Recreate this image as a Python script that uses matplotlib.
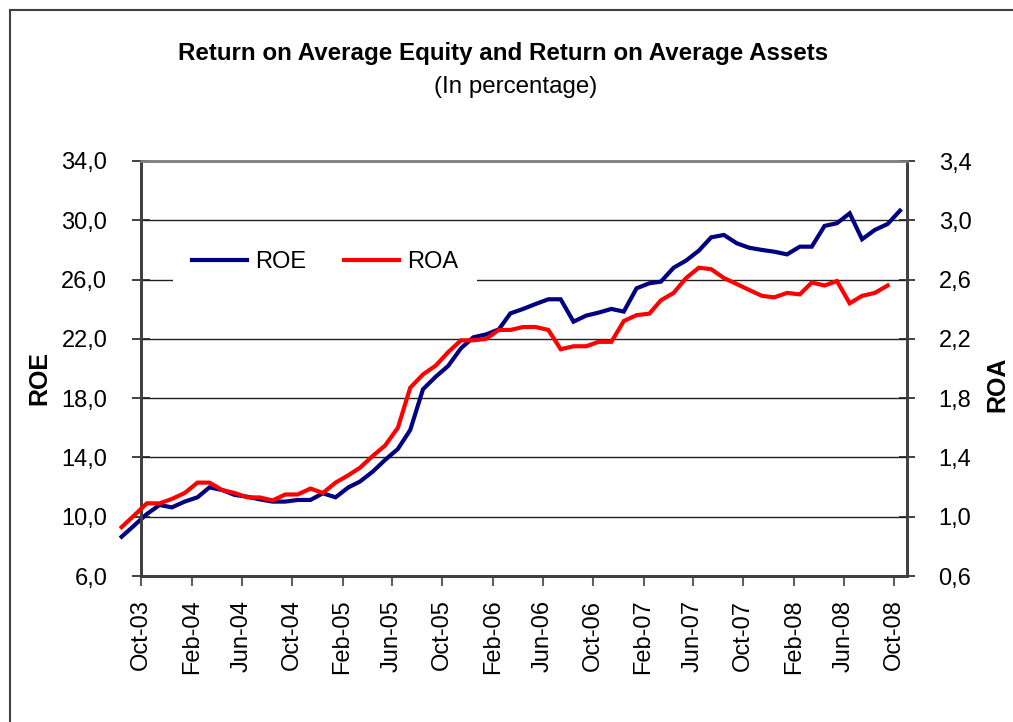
import matplotlib
matplotlib.use("Agg")
import matplotlib.pyplot as plt
from matplotlib import font_manager as fm
from matplotlib.lines import Line2D
import pandas as pd

# ---------------- data ----------------
roe = [8.65, 9.42, 10.18, 10.79, 10.63, 11.02, 11.31, 11.98, 11.80, 11.47,
       11.35, 11.17, 11.02, 11.02, 11.13, 11.13, 11.58, 11.31, 11.98, 12.37,
       13.04, 13.83, 14.57, 15.85, 18.60, 19.45, 20.17, 21.36, 22.10, 22.30,
       22.64, 23.72, 24.02, 24.35, 24.67, 24.67, 23.16, 23.57, 23.77, 24.02,
       23.84, 25.41, 25.75, 25.86, 26.80, 27.28, 27.95, 28.85, 29.01, 28.45,
       28.15, 28.00, 27.88, 27.70, 28.22, 28.22, 29.62, 29.80, 30.47, 28.72,
       29.35, 29.75, 30.65]
roa = [0.93, 1.01, 1.09, 1.09, 1.12, 1.16, 1.23, 1.23, 1.18, 1.16,
       1.13, 1.13, 1.11, 1.15, 1.15, 1.19, 1.16, 1.23, 1.28, 1.33,
       1.41, 1.48, 1.60, 1.87, 1.96, 2.02, 2.11, 2.19, 2.19, 2.20,
       2.26, 2.26, 2.28, 2.28, 2.26, 2.13, 2.15, 2.15, 2.18, 2.18,
       2.32, 2.36, 2.37, 2.46, 2.51, 2.61, 2.68, 2.67, 2.61, 2.57,
       2.53, 2.49, 2.48, 2.51, 2.50, 2.58, 2.56, 2.59, 2.44, 2.49,
       2.51, 2.56]
first_month = "2003-08-01"
x_tick_labels = ["Oct-03", "Feb-04", "Jun-04", "Oct-04", "Feb-05", "Jun-05",
                 "Oct-05", "Feb-06", "Jun-06", "Oct-06", "Feb-07", "Jun-07",
                 "Oct-07", "Feb-08", "Jun-08", "Oct-08"]
roe_ticks = [6, 10, 14, 18, 22, 26, 30, 34]
roe_tick_labels = ["6,0", "10,0", "14,0", "18,0", "22,0", "26,0", "30,0", "34,0"]
roa_ticks = [0.6, 1.0, 1.4, 1.8, 2.2, 2.6, 3.0, 3.4]
roa_tick_labels = ["0,6", "1,0", "1,4", "1,8", "2,2", "2,6", "3,0", "3,4"]
title = "Return on Average Equity and Return on Average Assets"
subtitle = "(In percentage)"

# ---------------- fonts ----------------
names = {f.name for f in fm.fontManager.ttflist}
REG = "Liberation Sans" if "Liberation Sans" in names else "DejaVu Sans"

W, H = 1013, 722
fig = plt.figure(figsize=(W / 100, H / 100), dpi=100)

def fx(px):
    return px / W

def fy(py):
    return 1 - py / H

ax = fig.add_axes([fx(141), fy(576), fx(907) - fx(141), fy(161) - fy(576)])
ax2 = ax.twinx()

dates_roe = pd.date_range(first_month, periods=len(roe), freq="MS") + pd.Timedelta(days=14)
dates_roa = pd.date_range(first_month, periods=len(roa), freq="MS") + pd.Timedelta(days=14)

l1, = ax.plot(dates_roe, roe, color="#000080", lw=3.0, clip_on=False, zorder=4,
              solid_joinstyle="miter")
l2, = ax2.plot(dates_roa, roa, color="#FF0000", lw=3.0, clip_on=False, zorder=4,
               solid_joinstyle="miter")

tick_dates = pd.date_range("2003-10-01", periods=len(x_tick_labels), freq="4MS")
ax.set_xlim(pd.Timestamp("2003-10-01"), pd.Timestamp("2008-11-01"))
ax.set_xticks(tick_dates)
ax.set_xticklabels(x_tick_labels, rotation=90, family=REG, fontsize=17)

ax.set_ylim(6, 34)
ax.set_yticks(roe_ticks)
ax.set_yticklabels(roe_tick_labels, family=REG, fontsize=17)
ax2.set_ylim(0.6, 3.4)
ax2.set_yticks(roa_ticks)
ax2.set_yticklabels(roa_tick_labels, family=REG, fontsize=17)

ax.grid(axis="y", color="#202020", lw=1.0)
ax.set_axisbelow(True)

spine_c = "#404040"
for a in (ax, ax2):
    for s in ("left", "right", "bottom"):
        a.spines[s].set_color(spine_c)
        a.spines[s].set_linewidth(2.0)
    a.spines["top"].set_color("#808080")
    a.spines["top"].set_linewidth(1.8)

ax.tick_params(axis="y", direction="inout", length=13.5, width=1.2, color="#202020",
               pad=17.5, labelcolor="black")
ax2.tick_params(axis="y", direction="inout", length=11.5, width=1.2, color="#202020",
                pad=17, labelcolor="black")
ax.tick_params(axis="x", direction="out", length=7, width=1.5, color="#606060",
               pad=10, labelcolor="black")

fig.text(fx(503), fy(60), title, ha="center", va="baseline", family=REG,
         fontweight="bold", fontsize=17.4)
fig.text(fx(516), fy(93), subtitle, ha="center", va="baseline", family=REG,
         fontsize=17.4)
fig.text(fx(39), fy(378), "ROE", ha="center", va="center", rotation=90,
         family=REG, fontweight="bold", fontsize=18)
fig.text(fx(997), fy(384), "ROA", ha="center", va="center", rotation=90,
         family=REG, fontweight="bold", fontsize=18)

leg = ax2.legend([l1, l2], ["ROE", "ROA"], loc="center left",
                 bbox_to_anchor=(fx(173), fy(262)), bbox_transform=fig.transFigure,
                 ncol=2, frameon=True, fancybox=False, borderaxespad=0,
                 borderpad=0.8, handlelength=2.33, handletextpad=0.34,
                 columnspacing=1.61, prop={"family": REG, "size": 17})
leg.get_frame().set_facecolor("white")
leg.get_frame().set_edgecolor("none")
leg.get_frame().set_alpha(1)
for h in leg.get_lines():
    h.set_linewidth(3.0)

# outer chart border (cropped at right/bottom)
fig.add_artist(Line2D([fx(10), fx(10)], [fy(10), 0], transform=fig.transFigure,
                      color="#404040", lw=1.5))
fig.add_artist(Line2D([fx(10), 1], [fy(10), fy(10)], transform=fig.transFigure,
                      color="#404040", lw=1.5))

fig.savefig("out.png", dpi=100)
